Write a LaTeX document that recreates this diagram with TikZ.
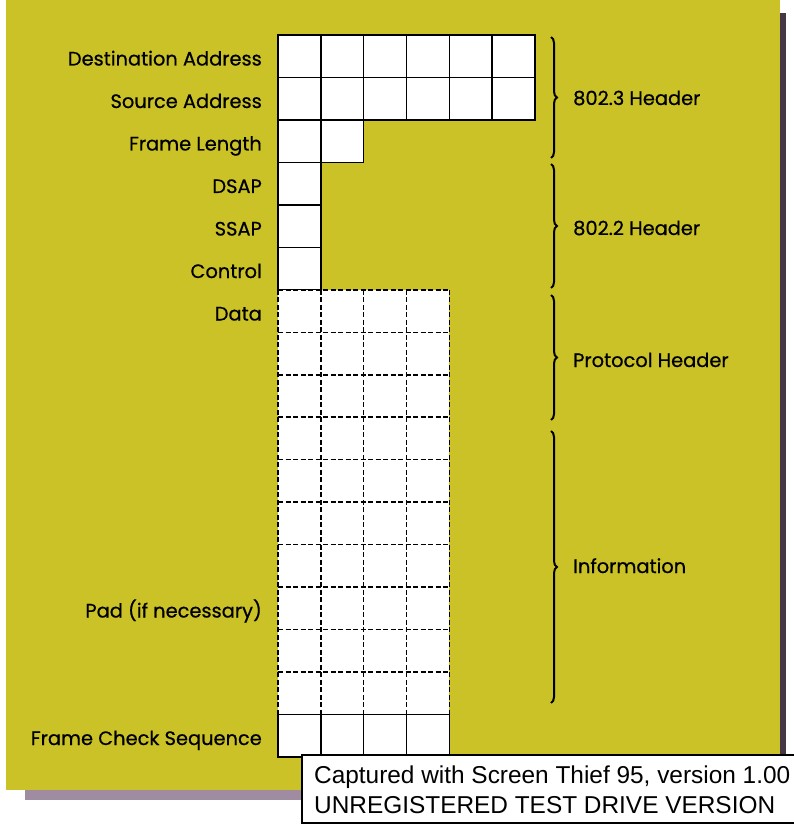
\documentclass[tikz,border=0pt]{standalone}
\usepackage{fontspec}
\setmainfont[FakeBold=0.6]{Poppins}
\newfontfamily\capfont{Liberation Sans}
\usetikzlibrary{decorations.pathreplacing}
\definecolor{panel}{RGB}{202,194,38}
\definecolor{shadowdark}{RGB}{70,55,70}
\definecolor{shadowlight}{RGB}{160,140,160}
\tikzset{
  cell/.style={fill=white,draw=black,line width=1.5pt},
  gridline/.style={draw=black,line width=1.5pt,dash pattern=on 5pt off 2.5pt},
  lbl/.style={anchor=base east,inner sep=0pt,font=\fontsize{19.4}{19.4}\selectfont},
  rlbl/.style={anchor=base west,inner sep=0pt,font=\fontsize{19.4}{19.4}\selectfont},
  brc/.style={decorate,decoration={brace,amplitude=6pt},line width=2pt},
  stamp/.style={anchor=base west,inner sep=0pt,font=\capfont\fontsize{24.4}{24.4}\selectfont}
}
\begin{document}
\begin{tikzpicture}[x=1pt,y=-1pt]
\useasboundingbox (0,0) rectangle (793,826);
\fill[white] (0,0) rectangle (793,826);
% drop shadow and yellow panel
\fill[shadowdark] (25,13) rectangle (786,800);
\fill[shadowlight] (25,790) rectangle (780,800);
\fill[panel] (6,0) rectangle (780,790);
\def\cw{42.83}
\def\rh{42.47}
% 802.3 header cells
\foreach \r in {0,1}
  \foreach \c in {0,...,5}
    \draw[cell] (278+\c*\cw,35+\r*\rh) rectangle ++(\cw,\rh);
\foreach \c in {0,1}
  \draw[cell] (278+\c*\cw,35+2*\rh) rectangle ++(\cw,\rh);
% 802.2 header cells
\foreach \r in {3,4,5}
  \draw[cell] (278,35+\r*\rh) rectangle ++(\cw,\rh);
% data area, dashed grid
\fill[white] (278,35+6*\rh) rectangle (278+4*\cw,35+16*\rh);
\foreach \r in {6,...,16}
  \draw[gridline] (278,35+\r*\rh) -- (278+4*\cw,35+\r*\rh);
\foreach \c in {0,...,4}
  \draw[gridline] (278+\c*\cw,35+6*\rh) -- (278+\c*\cw,35+16*\rh);
% frame check sequence cells
\foreach \c in {0,...,3}
  \draw[cell] (278+\c*\cw,35+16*\rh) rectangle ++(\cw,\rh);
% field names
\node[lbl] (dst)  at (262,65.5)  {Destination Address};
\node[lbl] (src)  at (262,108)   {Source Address};
\node[lbl] (len)  at (262,150.5) {Frame Length};
\node[lbl] (dsap) at (262,193)   {DSAP};
\node[lbl] (ssap) at (262,235.5) {SSAP};
\node[lbl] (ctl)  at (262,278)   {Control};
\node[lbl] (data) at (262,320.5) {Data};
\node[lbl] (pad)  at (262,617.5) {Pad (if necessary)};
\node[lbl] (fcs)  at (262,745)   {Frame Check Sequence};
% braces and group names
\coordinate (b1t) at (551,37);  \coordinate (b1b) at (551,158);
\coordinate (b2t) at (551,164); \coordinate (b2b) at (551,288);
\coordinate (b3t) at (551,295); \coordinate (b3b) at (551,420);
\coordinate (b4t) at (551,431); \coordinate (b4b) at (551,703);
\draw[brc] (b1t) -- (b1b);
\draw[brc] (b2t) -- (b2b);
\draw[brc] (b3t) -- (b3b);
\draw[brc] (b4t) -- (b4b);
\node[rlbl] (h3)  at (573,105) {802.3 Header};
\node[rlbl] (h2)  at (573,235) {802.2 Header};
\node[rlbl] (ph)  at (573,367) {Protocol Header};
\node[rlbl] (inf) at (573,573) {Information};
% capture stamp
\draw[fill=white,line width=2.5pt] (302,755) rectangle (800,823);
\node[stamp] (st1) at (314,783) {Captured with Screen Thief 95, version 1.00};
\node[stamp] (st2) at (314,813) {UNREGISTERED TEST DRIVE VERSION};
\end{tikzpicture}
\end{document}
